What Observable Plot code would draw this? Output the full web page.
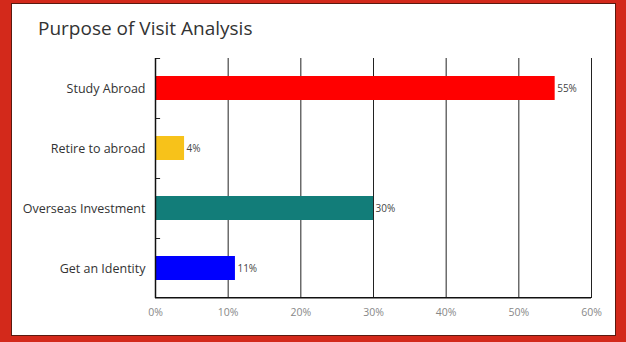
<!DOCTYPE html>
<html>
<head>
<meta charset="utf-8">
<script src="https://cdn.jsdelivr.net/npm/d3@7"></script>
<script src="https://cdn.jsdelivr.net/npm/@observablehq/plot@0.6"></script>
<style>
  html, body { margin: 0; padding: 0; }
  body { width: 626px; height: 342px; background: #d3291b; position: relative; overflow: hidden; }
  #panel { position: absolute; left: 11px; top: 3px; width: 605px; height: 333px; background: #fff; border: 1px solid #5a1a10; box-sizing: border-box; }
  #title { position: absolute; left: 38px; top: 15px; font-family: "Open Sans", sans-serif; font-size: 19px; color: #333; white-space: nowrap; }
  #chart { position: absolute; left: 0; top: 0; }
</style>
</head>
<body>
<div id="panel"></div>
<div id="title">Purpose of Visit Analysis</div>
<div id="chart"></div>
<script>
const categories = ["Study Abroad", "Retire to abroad", "Overseas Investment", "Get an Identity"];
const values = [55, 4, 30, 11];
const barColors = ["#ff0000", "#f7c21a", "#127d79", "#0000ff"];
const xTicks = [0, 10, 20, 30, 40, 50, 60];

const data = categories.map((c, i) => ({category: c, value: values[i], color: barColors[i]}));

const chart = Plot.plot({
  width: 626,
  height: 342,
  marginLeft: 155,
  marginRight: 35,
  marginTop: 58,
  marginBottom: 44,
  style: {background: "transparent", fontFamily: "Open Sans, sans-serif"},
  x: {domain: [0, 60], ticks: xTicks, tickFormat: d => d + "%", tickSize: 0, tickPadding: 10, label: null},
  y: {domain: categories, paddingInner: 0.6, paddingOuter: 0.3, tickSize: 0, tickPadding: 10, label: null},
  marks: [
    Plot.ruleX(xTicks.filter(d => d > 0), {stroke: "#222", strokeWidth: 1, strokeOpacity: 1}),
    Plot.barX(data, {y: "category", x: "value", fill: "color"}),
    // category boundary ticks (between categories), drawn relative to each band
    Plot.barX(categories, {y: d => d, x1: 0, x2: 0.7, fill: "#222", insetTop: -18, insetBottom: 41}),
    Plot.ruleX([0], {stroke: "#111", strokeWidth: 1.5}),
    // bottom axis line, at the lower edge of the last band's step
    Plot.barX(categories.slice(-1), {y: d => d, x1: 0, x2: 60, fill: "#111", insetTop: 41, insetBottom: -18.5}),
    Plot.text(data, {y: "category", x: "value", text: d => d.value + "%", textAnchor: "start", dx: 2, fill: "#444", fontSize: 10})
  ]
});

chart.querySelectorAll("g[aria-label='y-axis tick label'] text, g[aria-label='y-axis'] text").forEach(t => {
  t.setAttribute("fill", "#333");
  t.style.fontSize = "12.5px";
});
chart.querySelectorAll("g[aria-label='x-axis tick label'] text, g[aria-label='x-axis'] text").forEach(t => {
  t.setAttribute("fill", "#888");
  t.style.fontSize = "10.5px";
});
document.getElementById("chart").appendChild(chart);
</script>
</body>
</html>
